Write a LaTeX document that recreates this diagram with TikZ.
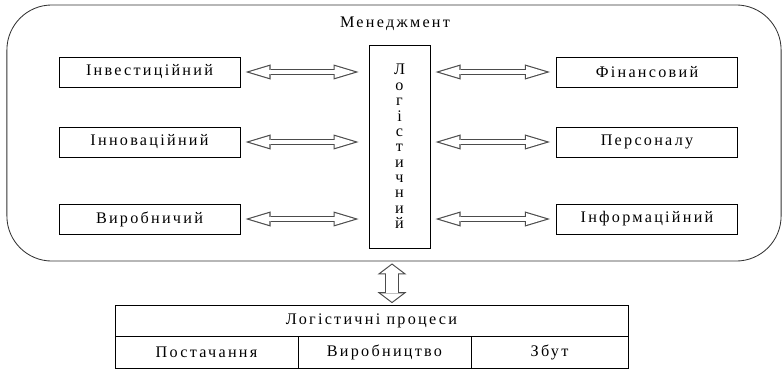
\documentclass[tikz,border=0pt]{standalone}
\usepackage{fontspec}
\setmainfont{Liberation Serif}[LetterSpace=14]
\usetikzlibrary{calc, positioning, arrows.meta}
\tikzset{
  frame/.style = {draw=black!80, line width=0.6pt, rounded corners=1.125cm, minimum width=19.35cm, minimum height=6.4cm},
  box/.style = {draw, line width=0.6pt, minimum width=4.525cm, minimum height=0.75cm, inner sep=0pt},
  logbox/.style = {draw, line width=0.6pt, minimum width=1.525cm, minimum height=5.075cm, align=center, font=\fontsize{11.5}{10.95}\selectfont},
  cell/.style = {draw, line width=0.6pt, minimum width=#1, minimum height=0.8cm, inner sep=0pt},
  harrow/.style 2 args = {draw=black!70, line width=4.3pt, shorten <=#1, shorten >=#2,
    {Triangle[length=17.8pt, width=10.7pt, line width=0pt 0]}-{Triangle[length=17.8pt, width=10.7pt, line width=0pt 0]}},
  harrowin/.style 2 args = {draw=white, line width=2.7pt, shorten <=#1, shorten >=#2,
    {Triangle[length=14.2pt, width=8.5pt, line width=0pt 0]}-{Triangle[length=14.2pt, width=8.5pt, line width=0pt 0]}},
  varrow/.style = {draw=black!70, line width=10pt, shorten <=1.4pt, shorten >=1pt,
    {Triangle[length=7.8pt, width=20.6pt, line width=0pt 0]}-{Triangle[length=7.8pt, width=20.6pt, line width=0pt 0]}},
  varrowin/.style = {draw=white, line width=8.4pt, shorten <=2.4pt, shorten >=2pt,
    {Triangle[length=6pt, width=15.8pt, line width=0pt 0]}-{Triangle[length=6pt, width=15.8pt, line width=0pt 0]}},
}

\begin{document}
\begin{tikzpicture}[x=0.025cm, y=-0.025cm, font=\fontsize{11.5}{13.8}\selectfont]
  \useasboundingbox (0,0) rectangle (782,369);
  \node[frame] (mgmt) at (394,133) {};
  \node (title) at (395,24) {Менеджмент};
  \node[box] (inv) at (149.5,72) {Інвестиційний};
  \node[box] (inn) at (149.5,142) {Інноваційний};
  \node[box] (vyr) at (149.5,219) {Виробничий};
  \node[box] (fin) at (647,72) {Фінансовий};
  \node[box] (pers) at (647,142) {Персоналу};
  \node[box] (inf) at (647,219) {Інформаційний};
  \node[logbox] (log) at (399.5,146.5) {Л\\о\\г\\і\\с\\т\\и\\ч\\н\\и\\й};
  % processes table
  \node[cell=12.825cm, minimum height=0.775cm] (proc) at (371.5,320.5) {Логістичні процеси};
  \node[cell=4.575cm] (post) at (206.5,352) {Постачання};
  \node[cell=4.325cm] (prod) at (384.5,352) {Виробництво};
  \node[cell=3.925cm] (sales) at (549.5,352) {Збут};
  % two-way arrows
  \foreach \n in {inv, inn, vyr} {
    \draw[harrow={3.6pt}{7.1pt}] (\n.east) -- (\n.east -| log.west);
    \draw[harrowin={6.4pt}{9.9pt}] (\n.east) -- (\n.east -| log.west);
  }
  \foreach \n in {fin, pers, inf} {
    \draw[harrow={4.3pt}{3.6pt}] (\n.west) -- (\n.west -| log.east);
    \draw[harrowin={7.1pt}{6.4pt}] (\n.west) -- (\n.west -| log.east);
  }
  \coordinate (link) at (392,0);
  \draw[varrow] (mgmt.south -| link) -- (proc.north -| link);
  \draw[varrowin] (mgmt.south -| link) -- (proc.north -| link);
\end{tikzpicture}
\end{document}
